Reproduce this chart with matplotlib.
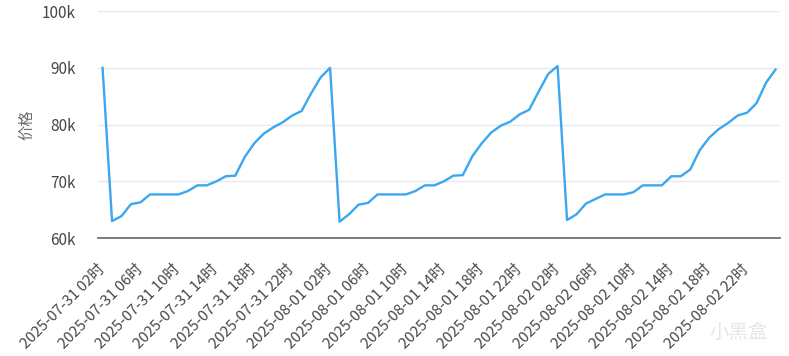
import pandas as pd
import matplotlib
matplotlib.use("Agg")
import matplotlib.pyplot as plt
from matplotlib.ticker import FuncFormatter

plt.rcParams['font.family'] = ['Noto Sans CJK SC', 'DejaVu Sans']

# hourly timestamps, 2025-07-31 02时 .. 2025-08-03 01时
times = pd.date_range("2025-07-31 02:00", periods=72, freq="h")
labels = [t.strftime("%Y-%m-%d %H") + "时" for t in times]

prices = [
    90000, 63000, 63900, 66000, 66300, 67700, 67700, 67700, 67700, 68300, 69300, 69300,
    70000, 70900, 71000, 74300, 76700, 78400, 79500, 80400, 81600, 82400, 85500, 88300,
    90000, 62900, 64200, 65900, 66200, 67700, 67700, 67700, 67700, 68300, 69300, 69300,
    70000, 71000, 71100, 74400, 76700, 78600, 79800, 80500, 81800, 82600, 85800, 88900,
    90300, 63200, 64200, 66100, 66900, 67700, 67700, 67700, 68100, 69300, 69300, 69300,
    70900, 70900, 72100, 75500, 77700, 79200, 80300, 81600, 82100, 83800, 87400, 89700,
]

text_grey = '#464646'
axis_grey = '#6e7079'

fig = plt.figure(figsize=(7.89, 3.56), dpi=100)
ax = fig.add_axes([0.124, 0.331, 0.865, 0.638])

x = list(range(len(prices)))
ax.plot(x, prices, color='#3ba7ef', lw=1.7, solid_joinstyle='round')

ax.set_xlim(-0.5, len(prices) - 0.5)
ax.set_ylim(60000, 100000)
ax.set_yticks([60000, 70000, 80000, 90000, 100000])
ax.yaxis.set_major_formatter(FuncFormatter(lambda v, p: f"{int(v / 1000)}k"))
ax.grid(axis='y', color='#e6e9f0', lw=1)
ax.set_axisbelow(True)

tick_pos = x[::4]
ax.set_xticks(tick_pos)
ax.set_xticklabels([labels[i] for i in tick_pos], rotation=45, ha='right',
                   va='center', rotation_mode='anchor')

for s in ['top', 'right', 'left']:
    ax.spines[s].set_visible(False)
ax.spines['bottom'].set_color(axis_grey)
ax.spines['bottom'].set_linewidth(1.3)

ax.tick_params(axis='x', length=0, pad=21, labelsize=10.8, labelcolor=text_grey)
ax.tick_params(axis='y', length=0, pad=16, labelsize=11, labelcolor=text_grey)

ax.set_ylabel("价格", color='#6a6a6a', fontsize=11)
ax.yaxis.set_label_coords(-0.091, 0.5)

# watermark
fig.text(0.973, 0.065, "小黑盒", ha='right', va='center', fontsize=14,
         color='#e6e6e6')

fig.savefig("out.png", dpi=100)
